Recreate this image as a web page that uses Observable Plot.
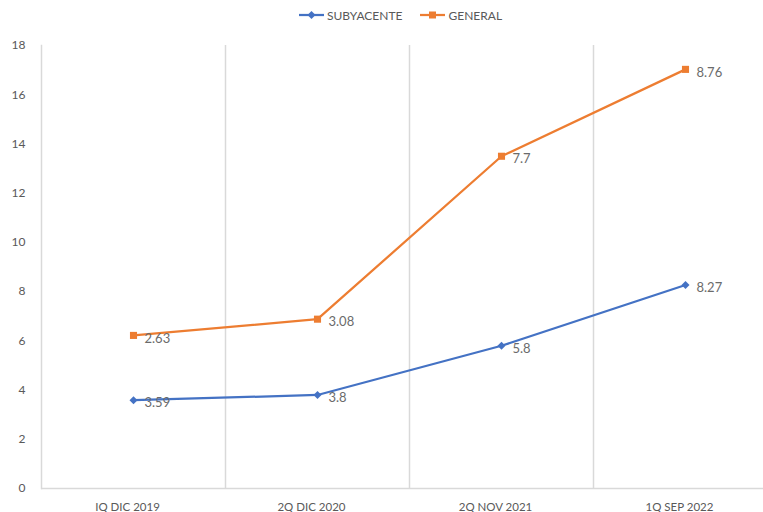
<!DOCTYPE html>
<html><head><meta charset="utf-8">
<script src="https://cdn.jsdelivr.net/npm/d3@7"></script>
<script src="https://cdn.jsdelivr.net/npm/@observablehq/plot@0.6"></script>
<style>
body{margin:0;background:#fff;font-family:Lato,"Open Sans",sans-serif;}
#legend{height:30px;display:flex;justify-content:center;align-items:center;gap:18px;font-size:12px;color:#595959;padding-left:38px;box-sizing:border-box;}
.item{display:flex;align-items:center;gap:3px;}
svg.plot{display:block;}
</style></head>
<body>
<div id="legend"></div>
<div id="chart"></div>
<script>
const categories = ["IQ DIC 2019", "2Q DIC 2020", "2Q NOV 2021", "1Q SEP 2022"];
const subyacente = [3.59, 3.8, 5.8, 8.27];
const general = [2.63, 3.08, 7.7, 8.76];
const seriesNames = ["SUBYACENTE", "GENERAL"];
const colors = ["#4472C4", "#ED7D31"];
const yTicks = [0, 2, 4, 6, 8, 10, 12, 14, 16, 18];

// stacked line chart: GENERAL drawn on top of SUBYACENTE
const rows = [];
categories.forEach((c, i) => {
  rows.push({cat: c, series: seriesNames[0], value: subyacente[i], top: subyacente[i]});
  rows.push({cat: c, series: seriesNames[1], value: general[i], top: subyacente[i] + general[i]});
});
const subRows = rows.filter(d => d.series === seriesNames[0]);
const genRows = rows.filter(d => d.series === seriesNames[1]);

// legend
const leg = document.getElementById("legend");
seriesNames.forEach((s, i) => {
  const it = document.createElement("div"); it.className = "item";
  const shape = i === 0
    ? `<path d="M12.5,3 L16.5,7 L12.5,11 L8.5,7Z" fill="${colors[i]}"/>`
    : `<rect x="9" y="3.5" width="7" height="7" fill="${colors[i]}"/>`;
  it.innerHTML = `<svg width="25" height="14"><line x1="0" x2="25" y1="7" y2="7" stroke="${colors[i]}" stroke-width="2.25"/>${shape}</svg><span>${s}</span>`;
  leg.appendChild(it);
});

const bw = (777 - 41) / categories.length;
const chart = Plot.plot({
  width: 763,
  height: 482,
  marginTop: 15,
  marginBottom: 24,
  marginLeft: 41,
  marginRight: 0,
  style: {fontFamily: "Lato, 'Open Sans', sans-serif", fontSize: "12px", color: "#595959", background: "#fff"},
  x: {type: "band", domain: categories, range: [41, 777], padding: 0},
  y: {domain: [0, 18], ticks: yTicks},
  marks: [
    Plot.ruleX(categories.slice(0, 3), {x: d => d, dx: bw / 2, stroke: "#d9d9d9", strokeWidth: 1.5}),
    Plot.ruleY([0], {stroke: "#d9d9d9", strokeWidth: 1.5}),
    Plot.frame({anchor: "left", stroke: "#d9d9d9", strokeWidth: 1.5}),
    Plot.axisY({ticks: yTicks, tickSize: 0, tickPadding: 16, fill: "#595959", fontSize: 12}),
    Plot.axisX({tickSize: 0, tickPadding: 14, dx: -6, fill: "#595959", fontSize: 11.5, label: null}),
    Plot.line(subRows, {x: "cat", y: "top", stroke: colors[0], strokeWidth: 2.25}),
    Plot.line(genRows, {x: "cat", y: "top", stroke: colors[1], strokeWidth: 2.25}),
    Plot.dot(subRows, {x: "cat", y: "top", symbol: d3.symbolDiamond2, r: 3.6, fill: colors[0], stroke: null}),
    Plot.dot(genRows, {x: "cat", y: "top", symbol: "square", r: 4, fill: colors[1]}),
    Plot.text(rows, {x: "cat", y: "top", text: d => String(d.value), textAnchor: "start", dx: 11, dy: 3, fill: "#6b6b6b", fontSize: 13})
  ]
});
chart.querySelectorAll("[aria-label='x-axis label'],[aria-label='y-axis label']").forEach(e => e.remove());
document.getElementById("chart").appendChild(chart);
</script>
</body></html>
